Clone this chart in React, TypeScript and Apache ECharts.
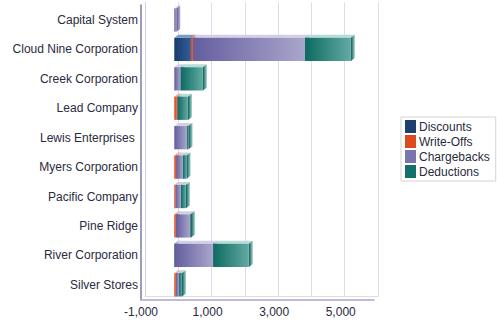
import React, { useEffect, useRef } from "react";
import * as echarts from "echarts";

const categories = [
  "Capital System",
  "Cloud Nine Corporation",
  "Creek Corporation",
  "Lead Company",
  "Lewis Enterprises ",
  "Myers Corporation",
  "Pacific Company",
  "Pine Ridge",
  "River Corporation",
  "Silver Stores",
];
const seriesNames = ["Discounts", "Write-Offs", "Chargebacks", "Deductions"];
const discounts = [0, 500, 0, 0, 0, 0, 0, 0, 20, 0];
const writeOffs = [0, 60, 0, 80, 0, 60, 40, 50, 0, 50];
const chargebacks = [60, 3370, 190, 20, 380, 200, 160, 430, 1150, 100];
const deductions = [0, 1375, 670, 310, 50, 110, 150, 20, 1070, 80];
const xTicks = { min: -1000, max: 6000, interval: 1000 };
const shownTickLabels = [-1000, 1000, 3000, 5000];

const palette = [
  { legend: "#1e3f6e", f0: "#1a3b6b", f1: "#30609a", top: "#7d9cc0", s0: "#132f55", s1: "#4d76a6" },
  { legend: "#dc4a22", f0: "#d8431b", f1: "#ee6c3c", top: "#f3a589", s0: "#b3340f", s1: "#f08a62" },
  { legend: "#7a76ad", f0: "#645e9e", f1: "#a9a6cb", top: "#d2d0e6", s0: "#58528e", s1: "#b7b4d6" },
  { legend: "#12716a", f0: "#0d6a62", f1: "#63aaa3", top: "#b8dcd7", s0: "#0a5b54", s1: "#a3d3cd" },
];

export default function App() {
  const ref = useRef<HTMLDivElement>(null);
  useEffect(() => {
    if (!ref.current) return;
    const chart = echarts.init(ref.current, undefined, { renderer: "svg" });
    const values = [discounts, writeOffs, chargebacks, deductions];
    const dx = 4;
    const dy = 3;
    const series: any[] = values.map((arr, s) => {
      const c = palette[s];
      const data = arr.map((v, i) => {
        let start = 0;
        for (let k = 0; k < s; k++) start += values[k][i];
        return [start, start + v, i];
      });
      return {
        name: seriesNames[s],
        type: "custom",
        xAxisIndex: 0,
        yAxisIndex: 0,
        itemStyle: { color: c.legend },
        encode: { x: [0, 1], y: 2 },
        data,
        renderItem: (params: any, api: any) => {
          const start = api.value(0);
          const end = api.value(1);
          const cat = api.value(2);
          if (end - start <= 0) return null;
          const p0 = api.coord([start, cat]);
          const p1 = api.coord([end, cat]);
          const bandH = api.size([0, 1])[1];
          const h = bandH * 0.79;
          const x0 = p0[0];
          const x1 = p1[0];
          const yT = p0[1] - h / 2;
          const yB = p0[1] + h / 2;
          return {
            type: "group",
            children: [
              {
                type: "polygon",
                shape: { points: [[x0, yT], [x1, yT], [x1 + dx, yT - dy], [x0 + dx, yT - dy]] },
                style: { fill: c.top },
              },
              {
                type: "polygon",
                shape: { points: [[x1, yT], [x1 + dx, yT - dy], [x1 + dx, yB - dy], [x1, yB]] },
                style: {
                  fill: new echarts.graphic.LinearGradient(0, 0, 1, 0, [
                    { offset: 0, color: c.s0 },
                    { offset: 1, color: c.s1 },
                  ]),
                },
              },
              {
                type: "rect",
                shape: { x: x0, y: yT, width: x1 - x0, height: yB - yT },
                style: {
                  fill: new echarts.graphic.LinearGradient(0, 0, 1, 0, [
                    { offset: 0, color: c.f0 },
                    { offset: 1, color: c.f1 },
                  ]),
                },
              },
            ],
          };
        },
      };
    });

    const textColor = "#2a2a40";
    const fontSize = 12;
    chart.setOption({
      animation: false,
      textStyle: { fontFamily: "Liberation Sans, Arial, sans-serif" },
      legend: {
        data: seriesNames,
        orient: "vertical",
        left: 401,
        top: 117,
        icon: "rect",
        itemWidth: 11,
        itemHeight: 13,
        itemGap: 2,
        padding: [3, 6, 3, 4],
        borderColor: "#d4d4d4",
        borderWidth: 1,
        backgroundColor: "#ffffff",
        textStyle: { fontSize, color: textColor, padding: [0, 0, 0, -2] },
      },
      grid: [
        { left: 141, top: 5.3, width: 233, height: 294.2, containLabel: false },
        { left: 145, top: 2.3, width: 233, height: 294.2, containLabel: false },
      ],
      xAxis: [
        {
          type: "value",
          gridIndex: 0,
          min: xTicks.min,
          max: xTicks.max,
          interval: xTicks.interval,
          axisLine: { show: true, onZero: false, lineStyle: { color: "#a8a8cc", width: 1.5 } },
          axisTick: { show: false },
          splitLine: { show: false },
          axisLabel: {
            margin: 6,
            fontSize,
            color: textColor,
            formatter: (v: number) =>
              shownTickLabels.indexOf(v) >= 0 ? v.toLocaleString("en-US") : "",
          },
        },
        {
          type: "value",
          gridIndex: 1,
          min: xTicks.min,
          max: xTicks.max,
          interval: xTicks.interval,
          axisLine: { show: true, onZero: false, lineStyle: { color: "#dcdcea", width: 1 } },
          axisTick: { show: false },
          axisLabel: { show: false },
          splitLine: { show: true, lineStyle: { color: "#dcdcea", width: 1 } },
        },
      ],
      yAxis: [
        {
          type: "category",
          gridIndex: 0,
          data: categories,
          inverse: true,
          axisLine: { show: true, onZero: false, lineStyle: { color: "#9c9cc0", width: 2 } },
          axisTick: { show: false },
          axisLabel: { margin: 3, fontSize, color: textColor },
        },
        {
          type: "category",
          gridIndex: 1,
          data: categories,
          inverse: true,
          axisLine: { show: true, onZero: false, lineStyle: { color: "#d0d0e2", width: 1 } },
          axisTick: { show: false },
          axisLabel: { show: false },
        },
      ],
      series,
    });
    return () => chart.dispose();
  }, []);
  return (
    <div
      ref={ref}
      style={{ position: "fixed", left: 0, top: 0, width: 497, height: 324, background: "#fff" }}
    />
  );
}
